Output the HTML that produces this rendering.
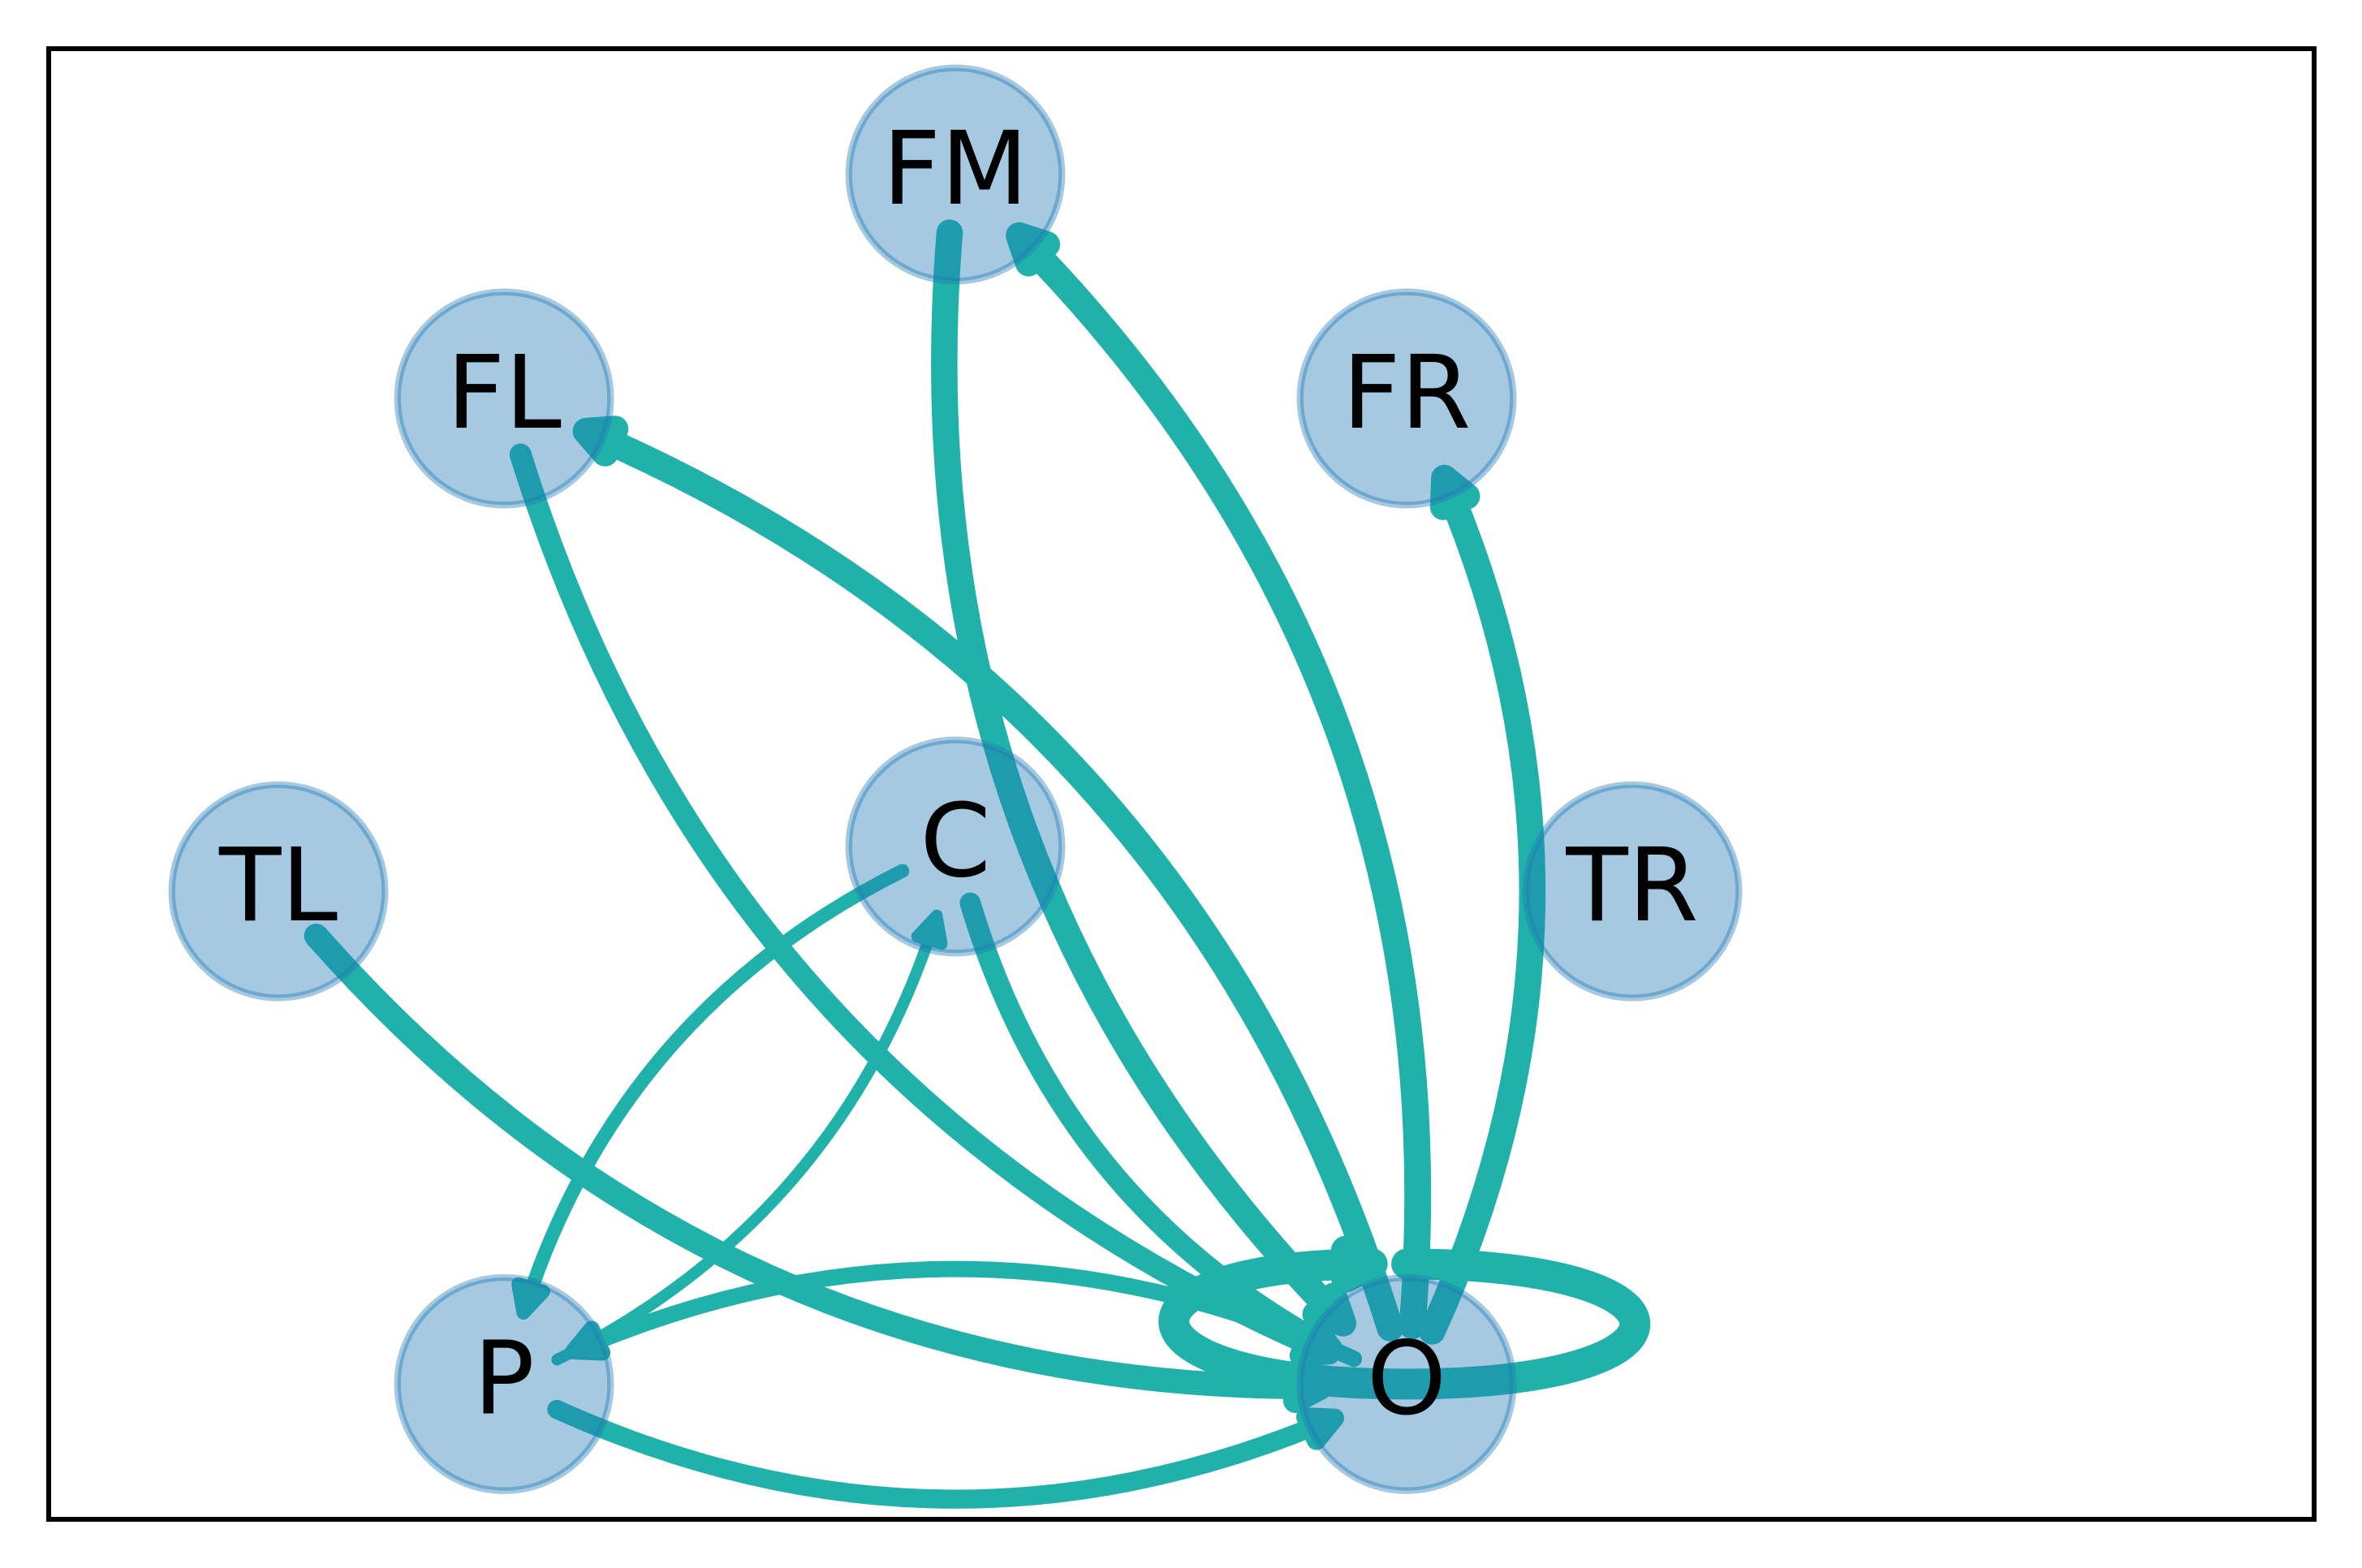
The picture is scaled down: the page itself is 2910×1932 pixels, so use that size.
<!DOCTYPE html>
<html>
<head>
<meta charset="utf-8">
<title>Network graph</title>
<style>
html,body{margin:0;padding:0;background:#fff}
svg{display:block}
</style>
</head>
<body>
<svg id="chart" xmlns="http://www.w3.org/2000/svg" width="2910" height="1932" viewBox="0 0 2910 1932">
<rect x="0" y="0" width="2910" height="1932" fill="#ffffff"/>
<g id="edges"></g>
<g id="nodes"></g>
<rect x="60" y="60" width="2791" height="1812" fill="none" stroke="#000000" stroke-width="6"/>
</svg>
<script>
const nodeNames = ['FM','FL','FR','TL','TR','C','P','O'];
const nodeXValues = [0,-2,2,-3,3,0,-2,2];
const nodeYValues = [3,2,2,-0.2,-0.2,0,-2.4,-2.4];

const edgeSources = ['TL','FL','O','FM','O','O','C','C','P','P','O','O'];
const edgeTargets = ['O','O','FL','O','FM','FR','O','P','C','O','P','O'];
const edgeWeights = [7.2,6.5,7.9,7.8,7.9,7.8,6.2,4.1,3.4,5.6,4.8,9.1];

const NS = 'http://www.w3.org/2000/svg';
const EDGE_COLOR = '#20b2aa';
const RAD = 0.255, SHRINK = 72, HEAD_LEN = 32, HEAD_HALF = 16;
const LOOP_H = 375, LOOP_V = 148;
const xScale = v => 1177 + 278 * v;
const yScale = v => 1043 - 276 * v;
const widthScale = w => w * 300 / 72;

function nodePos(name){
  const i = nodeNames.indexOf(name);
  return [xScale(nodeXValues[i]), yScale(nodeYValues[i])];
}
function bez(p,t){
  const u = 1-t;
  return [u*u*p[0][0]+2*u*t*p[1][0]+t*t*p[2][0], u*u*p[0][1]+2*u*t*p[1][1]+t*t*p[2][1]];
}
function lerp(a,b,t){return [a[0]+(b[0]-a[0])*t, a[1]+(b[1]-a[1])*t];}
function sub(p,t0,t1){
  const a = lerp(p[0],p[1],t0), b = lerp(p[1],p[2],t0), s = lerp(a,b,t0);
  const q = lerp(a,b,t1);
  return [s,q,bez(p,t1)];
}
function trimT(p,fromEnd,dist){
  const ref = fromEnd ? p[2] : p[0];
  let lo = fromEnd ? 0 : 1, hi = fromEnd ? 1 : 0;
  for(let i=0;i<50;i++){
    const m = (lo+hi)/2, pt = bez(p,m);
    if(Math.hypot(pt[0]-ref[0],pt[1]-ref[1]) > dist) lo = m; else hi = m;
  }
  return (lo+hi)/2;
}
function headPoints(end,dir,lw){
  const theta = Math.atan2(HEAD_HALF,HEAD_LEN), dist = Math.hypot(HEAD_LEN,HEAD_HALF);
  const pad = 0.5*lw/Math.sin(theta);
  const tip = [end[0]+dir[0]*pad, end[1]+dir[1]*pad];
  const c = Math.cos(theta), s = Math.sin(theta);
  const a = [tip[0]+dist*(c*dir[0]+s*dir[1]), tip[1]+dist*(-s*dir[0]+c*dir[1])];
  const b = [tip[0]+dist*(c*dir[0]-s*dir[1]), tip[1]+dist*(s*dir[0]+c*dir[1])];
  return {tip,a,b};
}
const edgesLayer = document.getElementById('edges');
const nodesLayer = document.getElementById('nodes');
function f(n){return n.toFixed(2);}

edgeSources.forEach((src,i)=>{
  const tgt = edgeTargets[i];
  const lw = widthScale(edgeWeights[i]);
  const g = document.createElementNS(NS,'g');
  
  
  let d, head;
  if(src === tgt){
    const [x,y] = nodePos(src);
    d = `M${f(x)} ${f(y-LOOP_V)} C${f(x+LOOP_H)} ${f(y-LOOP_V)} ${f(x+LOOP_H)} ${f(y)} ${f(x)} ${f(y)} C${f(x-LOOP_H)} ${f(y)} ${f(x-LOOP_H)} ${f(y-LOOP_V)} `;
    const h = headPoints([x,y-LOOP_V],[-1,0],lw);
    d += `${f(h.tip[0])} ${f(y-LOOP_V)}`;
    head = h;
  } else {
    const A = nodePos(src), B = nodePos(tgt);
    const dx = B[0]-A[0], dyUp = -(B[1]-A[1]);
    const C = [(A[0]+B[0])/2 + RAD*dyUp, (A[1]+B[1])/2 + RAD*dx];
    const full = [A,C,B];
    const t0 = trimT(full,false,SHRINK), t1 = trimT(full,true,SHRINK);
    const cur = sub(full,t0,t1);
    const end = cur[2];
    const len = Math.hypot(cur[1][0]-end[0],cur[1][1]-end[1]);
    const dir = [(cur[1][0]-end[0])/len,(cur[1][1]-end[1])/len];
    head = headPoints(end,dir,lw);
    const pad = 0.5*lw/Math.sin(Math.atan2(HEAD_HALF,HEAD_LEN));
    const t2 = trimT(cur,true,pad+HEAD_LEN*0.5);
    const shaft = sub(cur,0,t2);
    d = `M${f(shaft[0][0])} ${f(shaft[0][1])} Q${f(shaft[1][0])} ${f(shaft[1][1])} ${f(shaft[2][0])} ${f(shaft[2][1])}`;
  }
  const line = document.createElementNS(NS,'path');
  
  
  line.setAttribute('d', d);
  line.setAttribute('fill', 'none');
  line.setAttribute('stroke', EDGE_COLOR);
  line.setAttribute('stroke-width', f(lw));
  line.setAttribute('stroke-linecap', 'round');
  line.setAttribute('stroke-linejoin', 'round');
  g.appendChild(line);
  const tri = document.createElementNS(NS,'path');
  
  
  tri.setAttribute('d', `M${f(head.a[0])} ${f(head.a[1])} L${f(head.tip[0])} ${f(head.tip[1])} L${f(head.b[0])} ${f(head.b[1])} Z`);
  tri.setAttribute('fill', EDGE_COLOR);
  tri.setAttribute('stroke', EDGE_COLOR);
  tri.setAttribute('stroke-width', f(lw));
  tri.setAttribute('stroke-linejoin', 'round');
  g.appendChild(tri);
  edgesLayer.appendChild(g);
});

nodeNames.forEach((name,i)=>{
  const x = xScale(nodeXValues[i]), y = yScale(nodeYValues[i]);
  const c = document.createElementNS(NS,'circle');
  
  
  c.setAttribute('cx', x);
  c.setAttribute('cy', y);
  c.setAttribute('r', 131.3);
  c.setAttribute('fill', '#1f77b4');
  c.setAttribute('fill-opacity', '0.4');
  c.setAttribute('stroke', '#1f77b4');
  c.setAttribute('stroke-opacity', '0.4');
  c.setAttribute('stroke-width', '8.3');
  nodesLayer.appendChild(c);
});
nodeNames.forEach((name,i)=>{
  const x = xScale(nodeXValues[i]), y = yScale(nodeYValues[i]);
  const t = document.createElementNS(NS,'text');
  
  
  t.setAttribute('x', x);
  t.setAttribute('y', y + 36);
  t.setAttribute('text-anchor', 'middle');
  t.setAttribute('font-family', '"DejaVu Sans", "Liberation Sans", sans-serif');
  t.setAttribute('font-size', '125');
  t.setAttribute('fill', '#000000');
  t.textContent = name;
  nodesLayer.appendChild(t);
});
</script>
</body>
</html>
